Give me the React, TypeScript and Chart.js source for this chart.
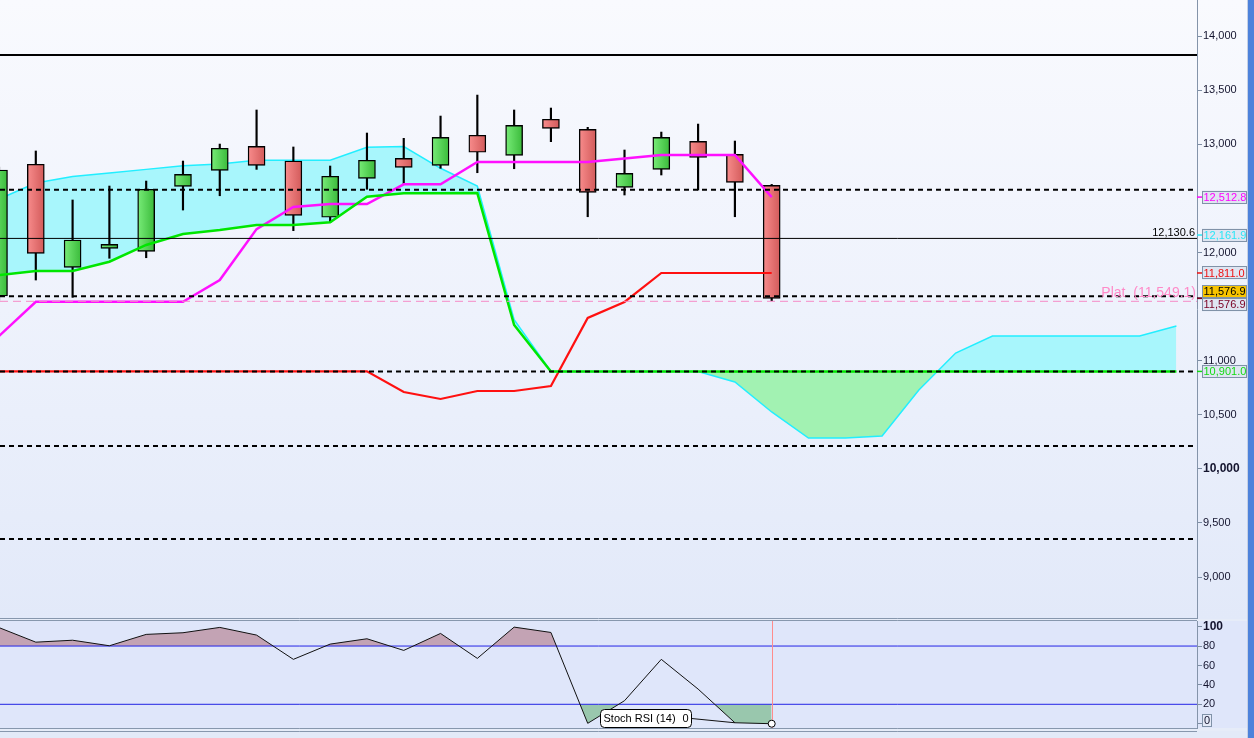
import React, { useEffect, useRef } from 'react';
import { Chart, registerables } from 'chart.js';

Chart.register(...registerables);

// ---------- data ----------
const candleIndex = [0, 1, 2, 3, 4, 5, 6, 7, 8, 9, 10, 11, 12, 13, 14, 15, 16, 17, 18, 19, 20, 21];
const cloudIndex = [0, 1, 2, 3, 4, 5, 6, 7, 8, 9, 10, 11, 12, 13, 14, 15, 16, 17, 18, 19, 20, 21, 22, 23, 24, 25, 26, 27, 28, 29, 30, 31, 32];

const opens = [11598, 12816, 11863, 12039, 12011, 12612, 12760, 12982, 12846, 12326, 12686, 12871, 12806, 13084, 12899, 13232, 13139, 12603, 12769, 13028, 12908, 12621];
const highs = [12790, 12939, 12486, 12615, 12661, 12846, 13003, 13318, 12976, 12800, 13105, 13056, 13262, 13456, 13318, 13336, 13158, 12948, 13114, 13188, 13031, 12630];
const lows = [11560, 11746, 11586, 11947, 11952, 12393, 12525, 12769, 12202, 12276, 12585, 12633, 12779, 12738, 12775, 13025, 12331, 12532, 12717, 12578, 12331, 11555];
const closes = [12763, 11993, 12116, 12076, 12585, 12723, 12964, 12806, 12344, 12705, 12853, 12788, 13065, 12927, 13176, 13148, 12557, 12732, 13065, 12880, 12649, 11576.9];

const tenkan = [11228, 11545, 11545, 11545, 11545, 11545, 11746, 12217, 12421, 12449, 12449, 12631, 12631, 12837, 12837, 12837, 12837, 12869, 12902, 12902, 12902, 12512.8];
const kijun = [10901, 10901, 10901, 10901, 10901, 10901, 10901, 10901, 10901, 10901, 10901, 10710, 10646, 10720, 10720, 10766, 11395, 11543, 11811, 11811, 11811, 11811];
const spanA = [12495, 12643, 12703, 12735, 12769, 12803, 12818, 12853, 12853, 12853, 12973, 12980, 12779, 12615, 11380, 10901, 10901, 10901, 10901, 10901, 10803, 10526, 10285, 10285, 10304, 10729, 11071, 11228, 11228, 11228, 11228, 11228, 11321];
const spanB = [11792, 11829, 11829, 11915, 12070, 12171, 12208, 12254, 12254, 12279, 12516, 12548, 12548, 12550, 11330, 10901, 10901, 10901, 10901, 10901, 10901, 10901, 10901, 10901, 10901, 10901, 10901, 10901, 10901, 10901, 10901, 10901, 10901];

const solidLevels = [13826, 12130.6];
const solidWidths = [2, 1];
const dashedLevels = [12580, 11595, 10901, 10211, 9351];
const platLevel = 11549.1;

const priceTicks = [9000, 9500, 10000, 10500, 11000, 12000, 13000, 13500, 14000];

const tagValues = [12512.8, 12161.9, 11811.0, 11576.9, 11576.9, 10901.0];
const tagColors = ['#ff00ff', '#2ae6f6', '#ee1010', '#000000', '#7a0024', '#12dc12'];
const tagBacks = ['#dfe5f1', '#dfe5f1', '#dfe5f1', '#f8c400', '#dfe5f1', '#dfe5f1'];

const stochRsi = [99, 84, 86, 80.3, 92, 93.7, 99.2, 91.3, 66.3, 82, 87.5, 75.5, 93, 67.3, 99.5, 94, 0.4, 23.7, 66.3, 35.7, 1, 0];
const stochLevels = [80, 20];
const stochTicks = [0, 10, 20, 30, 40, 50, 60, 70, 80, 90, 100];

// ---------- layout constants ----------
const X_MIN = 0.027;
const X_MAX = 32.559;
const Y_MIN = 8621;
const Y_MAX = 14335;
const S_MIN = -4.4;
const S_MAX = 105.8;
const AXIS_W = 57;
const FONT = "'Liberation Sans', Arial, Helvetica, sans-serif";

const fmt1 = (v: number) => v.toLocaleString('en-US', { minimumFractionDigits: 1, maximumFractionDigits: 1 });

export default function App() {
  const mainRef = useRef<HTMLCanvasElement | null>(null);
  const stochRef = useRef<HTMLCanvasElement | null>(null);

  useEffect(() => {
    Chart.defaults.font.family = FONT;
    Chart.defaults.font.size = 11;

    const pts = (xs: number[], ys: number[]) => xs.map((x, i) => ({ x, y: ys[i] }));
    const level = (v: number) => [{ x: X_MIN, y: v }, { x: X_MAX, y: v }];
    const line = (data: any, color: string, width: number, order: number, extra: any = {}) => ({
      type: 'line', data, borderColor: color, borderWidth: width, pointRadius: 0, tension: 0, fill: false, order, ...extra,
    });

    const bodyColor = (c: any) => {
      if (c.type !== 'data') return '#d86868';
      const i = c.dataIndex;
      const up = closes[i] >= opens[i];
      const chart = c.chart;
      const xs = chart.scales && chart.scales.x;
      const px = xs ? xs.getPixelForValue(candleIndex[i]) : NaN;
      if (!chart.chartArea || !Number.isFinite(px)) return up ? '#58d058' : '#e07070';
      const g = chart.ctx.createLinearGradient(px - 8.5, 0, px + 8.5, 0);
      if (up) { g.addColorStop(0, '#78ec78'); g.addColorStop(1, '#3aba3a'); }
      else { g.addColorStop(0, '#f88c8c'); g.addColorStop(1, '#d25a5a'); }
      return g;
    };

    const mainDatasets: any[] = [
      // 0: span A with cloud fill to span B
      line(pts(cloudIndex, spanA), '#22eeff', 1.5, 6, {
        fill: { target: 1, above: '#a8f6fc', below: '#a2f2b2' },
      }),
      // 1: span B
      line(pts(cloudIndex, spanB), '#00e600', 2.5, 1),
      // 2: tenkan
      line(pts(candleIndex, tenkan), '#ff10ff', 2.5, 1),
      // 3: kijun
      line(pts(candleIndex, kijun), '#ff1010', 2.2, 1),
      // 4: wicks
      {
        type: 'bar', order: 4, grouped: false, barThickness: 1.5,
        data: candleIndex.map((x, i) => ({ x, y: [lows[i], highs[i]] })),
        backgroundColor: '#000', borderWidth: 0,
      },
      // 5: bodies
      {
        type: 'bar', order: 3, grouped: false, barThickness: 17,
        data: candleIndex.map((x, i) => ({ x, y: [Math.min(opens[i], closes[i]), Math.max(opens[i], closes[i])] })),
        backgroundColor: bodyColor, borderColor: '#000', borderWidth: 1.4, borderSkipped: false,
      },
      line(level(platLevel), '#f58ac6', 1, 0, { borderDash: [8, 5] }),
      ...solidLevels.map((v, i) => line(level(v), '#000', solidWidths[i], 0)),
      ...dashedLevels.map((v) => line(level(v), '#000', 2, 0, { borderDash: [5, 4] })),
    ];

    const mainBg = {
      id: 'mainBg',
      beforeDraw(chart: any) {
        const { ctx, width, height } = chart;
        const g = ctx.createLinearGradient(0, 0, 0, height);
        g.addColorStop(0, '#f9fafe');
        g.addColorStop(0.5, '#eef2fc');
        g.addColorStop(1, '#e2e9f9');
        ctx.save();
        ctx.fillStyle = g;
        ctx.fillRect(0, 0, width, height);
        ctx.restore();
      },
    };

    const mainOverlay = {
      id: 'mainOverlay',
      afterDraw(chart: any) {
        const { ctx, chartArea } = chart;
        const ys = chart.scales.y;
        ctx.save();
        // bottom panel border
        ctx.strokeStyle = '#8797ad';
        ctx.lineWidth = 1;
        ctx.beginPath();
        ctx.moveTo(0, chartArea.bottom + 0.5);
        ctx.lineTo(chartArea.right, chartArea.bottom + 0.5);
        ctx.stroke();

        // level texts
        ctx.textBaseline = 'middle';
        ctx.textAlign = 'right';
        ctx.font = `11px ${FONT}`;
        ctx.fillStyle = '#000';
        ctx.fillText(fmt1(solidLevels[1]), chartArea.right - 2, ys.getPixelForValue(solidLevels[1]) - 5.5);
        ctx.font = `14px ${FONT}`;
        ctx.fillStyle = '#ff8ac8';
        ctx.fillText(`Plat  (${fmt1(platLevel)})`, chartArea.right - 1, ys.getPixelForValue(platLevel) - 8.5);

        // value tags on the axis
        const h = 13;
        const items = tagValues.map((v, i) => ({ v, i, y0: ys.getPixelForValue(v), y: ys.getPixelForValue(v) }));
        items.sort((a, b) => a.y - b.y);
        for (let k = 1; k < items.length; k++) {
          const p = items[k - 1], c = items[k];
          if (c.y - p.y < h) { const mid = (p.y + c.y) / 2; p.y = mid - h / 2; c.y = mid + h / 2; }
        }
        ctx.font = `11px ${FONT}`;
        ctx.textAlign = 'left';
        const x0 = chartArea.right + 5;
        items.forEach((it) => {
          ctx.strokeStyle = tagColors[it.i];
          ctx.lineWidth = 1.5;
          ctx.beginPath();
          ctx.moveTo(chartArea.right, it.y0);
          ctx.lineTo(chartArea.right + 5, it.y0);
          ctx.stroke();
          ctx.fillStyle = tagBacks[it.i];
          ctx.fillRect(x0, it.y - h / 2, 45, h);
          ctx.strokeStyle = '#8092a8';
          ctx.lineWidth = 1;
          ctx.strokeRect(x0 + 0.5, Math.round(it.y - h / 2) + 0.5, 44, h - 1);
          ctx.fillStyle = tagColors[it.i];
          ctx.fillText(fmt1(it.v), x0 + 1.5, it.y + 0.5);
        });
        ctx.restore();
      },
    };

    const main = new Chart(mainRef.current as HTMLCanvasElement, {
      type: 'line',
      data: { datasets: mainDatasets },
      options: {
        animation: false,
        responsive: false,
        events: [],
        layout: { autoPadding: false, padding: { top: 0, bottom: 1, left: 0, right: 0 } },
        plugins: { legend: { display: false }, tooltip: { enabled: false } },
        scales: {
          x: { type: 'linear', min: X_MIN, max: X_MAX, display: false, offset: false },
          y: {
            type: 'linear', position: 'right', min: Y_MIN, max: Y_MAX,
            afterBuildTicks: (s: any) => { s.ticks = priceTicks.map((v) => ({ value: v })); },
            afterFit: (s: any) => { s.width = AXIS_W; s.paddingTop = 0; s.paddingBottom = 0; },
            grid: { drawOnChartArea: false, tickLength: 5, color: '#7d8da3' },
            border: { color: '#8494aa' },
            ticks: {
              padding: 1,
              color: '#14142e',
              font: (c: any) => (c.tick && c.tick.value === 10000 ? { size: 12, weight: 'bold' } : { size: 11 }),
              callback: (v: any) => Number(v).toLocaleString('en-US'),
            },
          },
        },
      } as any,
      plugins: [mainBg, mainOverlay],
    } as any);

    // ---------- Stoch RSI panel ----------
    const last = stochRsi.length - 1;
    const stochDatasets: any[] = [
      line(pts(candleIndex, stochRsi), '#111', 1, 0, {
        pointRadius: (c: any) => (c.dataIndex === last ? 3.5 : 0),
        pointBackgroundColor: '#fff', pointBorderColor: '#000', pointBorderWidth: 1,
      }),
      ...stochLevels.map((v) => line(level(v), '#2424e6', 1, 1)),
      line(pts(candleIndex, stochRsi), 'rgba(0,0,0,0)', 0, 3, {
        fill: { target: { value: stochLevels[0] }, above: '#c3a3b4', below: 'rgba(0,0,0,0)' },
      }),
      line(pts(candleIndex, stochRsi), 'rgba(0,0,0,0)', 0, 3, {
        fill: { target: { value: stochLevels[1] }, above: 'rgba(0,0,0,0)', below: '#99c7ad' },
      }),
    ];

    const stochBg = {
      id: 'stochBg',
      beforeDraw(chart: any) {
        const { ctx, width, height, chartArea } = chart;
        ctx.save();
        ctx.fillStyle = '#e6ecf8';
        ctx.fillRect(0, 0, width, height);
        ctx.fillStyle = '#dfe6fa';
        ctx.fillRect(0, chartArea.top, width, chartArea.bottom - chartArea.top);
        ctx.restore();
      },
      beforeDatasetDraw(chart: any, args: any) {
        if (args.index !== 0) return;
        const { ctx, chartArea } = chart;
        const px = Math.round(chart.scales.x.getPixelForValue(candleIndex[last])) + 0.5;
        ctx.save();
        ctx.strokeStyle = '#ff8c8c';
        ctx.lineWidth = 1;
        ctx.beginPath();
        ctx.moveTo(px, chartArea.top);
        ctx.lineTo(px, chartArea.bottom);
        ctx.stroke();
        ctx.restore();
      },
      afterDraw(chart: any) {
        const { ctx, chartArea, height } = chart;
        const xs = chart.scales.x;
        const ys = chart.scales.y;
        ctx.save();
        ctx.strokeStyle = '#8797ad';
        ctx.lineWidth = 1;
        ctx.beginPath();
        ctx.moveTo(0, chartArea.top - 0.5); ctx.lineTo(chartArea.right, chartArea.top - 0.5);
        ctx.moveTo(0, chartArea.bottom + 0.5); ctx.lineTo(chartArea.right, chartArea.bottom + 0.5);
        ctx.stroke();
        // next panel start
        ctx.fillStyle = '#e3eaf8';
        ctx.fillRect(0, chartArea.bottom + 3, chartArea.right + AXIS_W, height - chartArea.bottom - 3);
        ctx.beginPath();
        ctx.moveTo(0, chartArea.bottom + 3.5); ctx.lineTo(chartArea.right, chartArea.bottom + 3.5);
        ctx.stroke();

        // boxed zero label on axis
        const zx = chartArea.right + 5;
        const zy = chartArea.bottom - 7.5;
        ctx.fillStyle = '#e4eaf8';
        ctx.fillRect(zx, zy - 6.5, 10, 13);
        ctx.strokeStyle = '#8092a8';
        ctx.strokeRect(zx + 0.5, Math.round(zy - 6.5) + 0.5, 9, 12);
        ctx.fillStyle = '#14142e';
        ctx.font = `11px ${FONT}`;
        ctx.textBaseline = 'middle';
        ctx.textAlign = 'left';
        ctx.fillText('0', zx + 2, zy + 0.5);

        // indicator label box with leader
        const bx = 600.5, by = chartArea.top + 88.5, bw = 91, bh = 18;
        const tx = xs.getPixelForValue(candleIndex[last - 1]);
        const ty = ys.getPixelForValue(stochRsi[last - 1]);
        ctx.strokeStyle = '#111';
        ctx.beginPath();
        ctx.moveTo(bx + bw, by + bh / 2);
        ctx.lineTo(tx, ty);
        ctx.stroke();
        ctx.fillStyle = '#ffffff';
        ctx.beginPath();
        (ctx as any).roundRect(bx, by, bw, bh, 4);
        ctx.fill();
        ctx.strokeStyle = '#000';
        ctx.stroke();
        ctx.fillStyle = '#000';
        ctx.font = `11px ${FONT}`;
        ctx.fillText('Stoch RSI (14)', bx + 3, by + bh / 2 + 0.5);
        ctx.fillText(String(stochRsi[last]), bx + 82, by + bh / 2 + 0.5);
        ctx.restore();
      },
    };

    const stoch = new Chart(stochRef.current as HTMLCanvasElement, {
      type: 'line',
      data: { datasets: stochDatasets },
      options: {
        animation: false,
        responsive: false,
        events: [],
        layout: { autoPadding: false, padding: { top: 2, bottom: 10, left: 0, right: 0 } },
        plugins: { legend: { display: false }, tooltip: { enabled: false } },
        scales: {
          x: { type: 'linear', min: X_MIN, max: X_MAX, display: false, offset: false },
          y: {
            type: 'linear', position: 'right', min: S_MIN, max: S_MAX,
            afterBuildTicks: (s: any) => { s.ticks = stochTicks.map((v) => ({ value: v })); },
            afterFit: (s: any) => { s.width = AXIS_W; s.paddingTop = 0; s.paddingBottom = 0; },
            grid: { drawOnChartArea: false, tickLength: 5, color: '#7d8da3' },
            border: { color: '#8494aa' },
            ticks: {
              padding: 1,
              color: '#14142e',
              font: (c: any) => (c.tick && c.tick.value === 100 ? { size: 12, weight: 'bold' } : { size: 11 }),
              callback: (v: any) => (Number(v) % 20 === 0 && Number(v) !== 0 ? String(v) : ''),
            },
          },
        },
      } as any,
      plugins: [stochBg],
    } as any);

    return () => {
      main.destroy();
      stoch.destroy();
    };
  }, []);

  return (
    <div style={{ position: 'relative', width: 1254, height: 738, overflow: 'hidden', background: '#dde5f6' }}>
      <style>{`body{margin:0;background:#dde5f6;}`}</style>
      <canvas ref={mainRef} width={1254} height={619} style={{ position: 'absolute', left: 0, top: 0 }} />
      <canvas ref={stochRef} width={1254} height={119} style={{ position: 'absolute', left: 0, top: 619 }} />
      <div style={{ position: 'absolute', left: 1247, top: 0, width: 1, height: 738, background: '#c6d0e4' }} />
      <div style={{ position: 'absolute', left: 1248, top: 0, width: 6, height: 738, background: '#4d82db' }} />
    </div>
  );
}
